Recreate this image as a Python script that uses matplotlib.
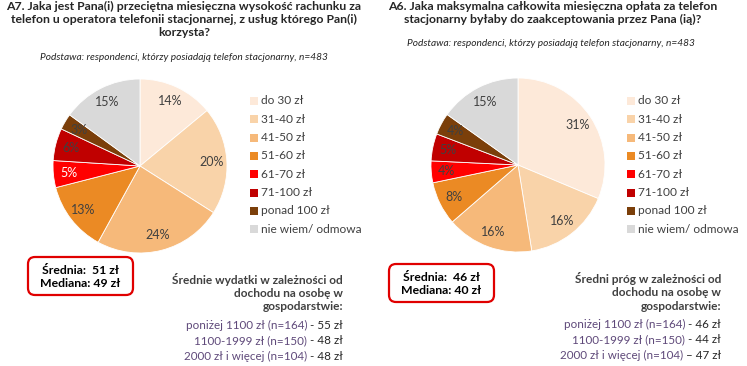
import matplotlib
matplotlib.use("Agg")
import matplotlib.pyplot as plt
from matplotlib.patches import FancyBboxPatch, Rectangle

plt.rcParams['font.family'] = ['Lato', 'DejaVu Sans']

W, H = 747, 366
DPI = 100

# data
categories = ['do 30 zł', '31-40 zł', '41-50 zł', '51-60 zł', '61-70 zł',
              '71-100 zł', 'ponad 100 zł', 'nie wiem/ odmowa']
colors = ['#FDE9D9', '#F9D3A9', '#F6B97A', '#EB8A24', '#FF0000',
          '#C00000', '#7B3F0A', '#D9D9D9']
label_colors_a7 = ['#404040'] * 4 + ['white'] + ['#404040'] * 3
label_colors_a6 = ['#404040'] * 8

a7_values = [14, 20, 24, 13, 5, 6, 3, 15]
a6_values = [31, 16, 16, 8, 4, 5, 4, 15]

a7_title = ("A7. Jaka jest Pana(i) przeciętna miesięczna wysokość rachunku za\n"
            "telefon u operatora telefonii stacjonarnej, z usług którego Pan(i)\n"
            "korzysta?")
a6_title = ("A6. Jaka maksymalna całkowita miesięczna opłata za telefon\n"
            "stacjonarny byłaby do zaakceptowania przez Pana (ią)?")
base_txt = "Podstawa: respondenci, którzy posiadają telefon stacjonarny, n=483"

a7_box = "Średnia:  51 zł\nMediana: 49 zł"
a6_box = "Średnia:  46 zł\nMediana: 40 zł"

a7_head = "Średnie wydatki w zależności od\ndochodu na osobę w\ngospodarstwie:"
a6_head = "Średni próg w zależności od\ndochodu na osobę w\ngospodarstwie:"
income_groups = ['poniżej 1100 zł (n=164)', '1100-1999 zł (n=150)', '2000 zł i więcej (n=104)']
a7_income = ['- 55 zł', '- 48 zł', '- 48 zł']
a6_income = ['- 46 zł', '- 44 zł', '– 47 zł']

fig = plt.figure(figsize=(W / DPI, H / DPI), dpi=DPI)
fig.patch.set_facecolor('white')
ov = fig.add_axes([0, 0, 1, 1])
ov.set_xlim(0, W)
ov.set_ylim(H, 0)
ov.axis('off')
renderer = fig.canvas.get_renderer()


def pie_at(cx, cy, r, values, lab_cols):
    ax = fig.add_axes([(cx - r) / W, (H - cy - r) / H, 2 * r / W, 2 * r / H])
    wedges, texts, autot = ax.pie(values, colors=colors, startangle=90, counterclock=False,
                                  autopct='%d%%', pctdistance=0.82,
                                  wedgeprops=dict(edgecolor='white', linewidth=0.6),
                                  textprops=dict(fontsize=9, color='#404040'))
    for t, c in zip(autot, lab_cols):
        t.set_color(c)
    ax.set_xlim(-1, 1)
    ax.set_ylim(-1, 1)
    ax.axis('off')


def legend_at(x, y0, step):
    for i, (lab, c) in enumerate(zip(categories, colors)):
        y = y0 + i * step
        ov.add_patch(Rectangle((x, y - 4), 8, 8, facecolor=c, edgecolor='none'))
        ov.text(x + 11, y, lab, fontsize=8.6, color='#404040', va='center', ha='left')


def side_block(xr, y0, head, values):
    ov.text(xr, y0, head, fontsize=8.6, color='#404040', fontweight='bold',
            ha='right', va='top', linespacing=1.25)
    for i, (g, v) in enumerate(zip(income_groups, values)):
        y = y0 + 47 + i * 15.3
        t = ov.text(xr, y, v, fontsize=8.4, color='#262626', ha='right', va='top')
        w = t.get_window_extent(renderer).width
        ov.text(xr - w - 3, y, g, fontsize=8.4, color='#5F497A', ha='right', va='top')


def stat_box(x0, y0, w, h, txt):
    ov.add_patch(FancyBboxPatch((x0, y0), w, h, boxstyle='round,pad=0,rounding_size=7',
                                facecolor='white', edgecolor='#E00000', linewidth=1.6))
    ov.text(x0 + w / 2, y0 + h / 2 + 1, txt, fontsize=8.8, fontweight='bold', color='black',
            ha='center', va='center', linespacing=1.25)


# left panel
ov.text(184, 1, a7_title, fontsize=8.8, fontweight='bold', color='#262626',
        ha='center', va='top', linespacing=1.22)
ov.text(184, 58, base_txt, fontsize=7.3, style='italic', color='#262626',
        ha='center', va='center')
pie_at(140, 166, 87, a7_values, label_colors_a7)
legend_at(250, 101, 18.3)
stat_box(28, 257, 105, 38, a7_box)
side_block(343, 273, a7_head, a7_income)

# right panel
ov.text(553, 1, a6_title, fontsize=8.8, fontweight='bold', color='#262626',
        ha='center', va='top', linespacing=1.22)
ov.text(551, 44, base_txt, fontsize=7.3, style='italic', color='#262626',
        ha='center', va='center')
pie_at(518, 165, 87, a6_values, label_colors_a6)
legend_at(627, 101, 18.3)
stat_box(389, 264, 105, 38, a6_box)
side_block(721, 272, a6_head, a6_income)

fig.savefig('out.png', dpi=DPI, facecolor='white')
